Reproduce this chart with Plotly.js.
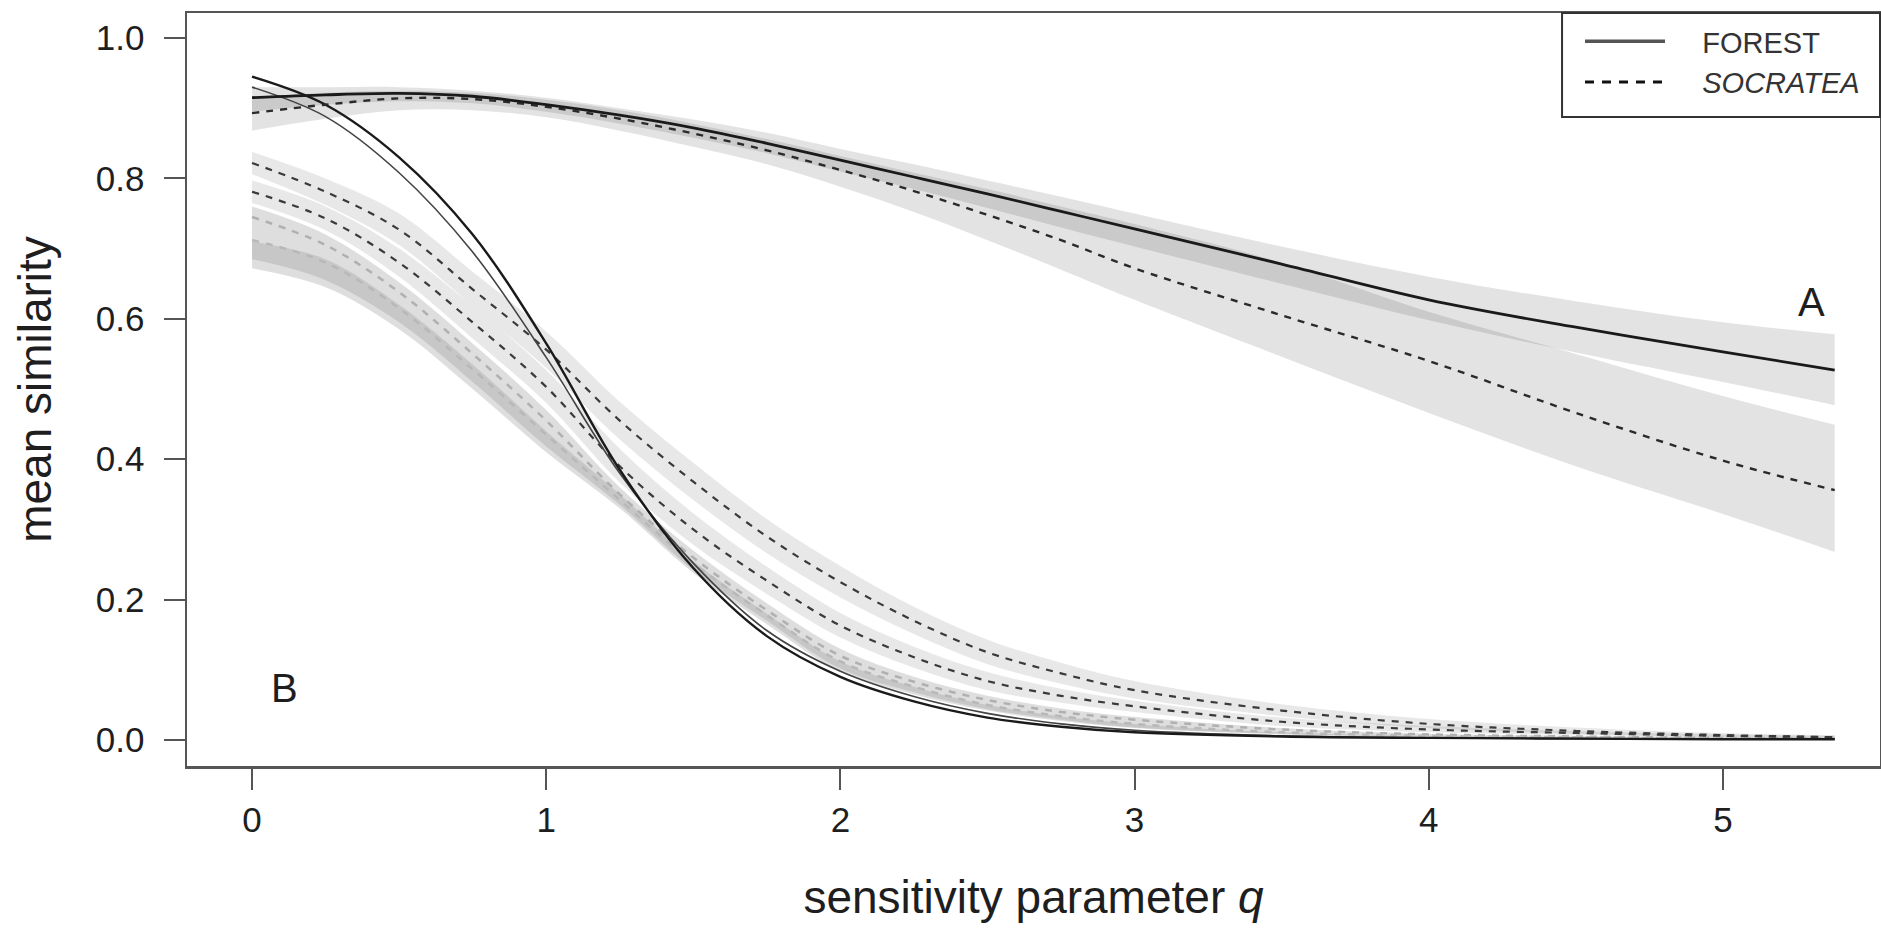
<!DOCTYPE html>
<html>
<head>
<meta charset="utf-8">
<script src="https://cdn.plot.ly/plotly-3.0.1.min.js"></script>
<style>html,body{margin:0;padding:0;background:#fff;}#chart{width:1881px;height:931px;}</style>
</head>
<body>
<div id="chart"></div>
<script>
// ---- data ----
const q = [0, 0.25, 0.5, 0.75, 1.0, 1.25, 1.5, 1.75, 2.0, 2.25, 2.5, 2.75, 3.0, 3.5, 4.0, 4.5, 5.0, 5.38];

// Curve set A
const aForest    = [0.915, 0.919, 0.921, 0.917, 0.905, 0.890, 0.872, 0.850, 0.826, 0.802, 0.778, 0.753, 0.728, 0.678, 0.627, 0.588, 0.553, 0.527];
const aForestHi  = [0.930, 0.930, 0.930, 0.925, 0.915, 0.900, 0.884, 0.865, 0.842, 0.820, 0.797, 0.774, 0.750, 0.703, 0.660, 0.625, 0.595, 0.578];
const aForestLo  = [0.895, 0.905, 0.910, 0.907, 0.895, 0.878, 0.858, 0.836, 0.810, 0.785, 0.758, 0.730, 0.703, 0.650, 0.598, 0.552, 0.510, 0.477];
const aSocratea  = [0.893, 0.905, 0.914, 0.913, 0.902, 0.885, 0.864, 0.840, 0.812, 0.782, 0.748, 0.712, 0.672, 0.605, 0.540, 0.466, 0.398, 0.356];
const aSocHi     = [0.915, 0.922, 0.925, 0.922, 0.912, 0.897, 0.878, 0.856, 0.832, 0.808, 0.785, 0.760, 0.735, 0.680, 0.610, 0.550, 0.490, 0.449];
const aSocLo     = [0.868, 0.885, 0.897, 0.897, 0.887, 0.868, 0.845, 0.820, 0.788, 0.752, 0.712, 0.670, 0.627, 0.546, 0.466, 0.390, 0.322, 0.268];

// Curve set B
const bForest1   = [0.945, 0.905, 0.830, 0.720, 0.565, 0.385, 0.245, 0.148, 0.090, 0.055, 0.032, 0.019, 0.011, 0.005, 0.003, 0.002, 0.001, 0.001];
const bForest2   = [0.930, 0.888, 0.808, 0.695, 0.545, 0.380, 0.252, 0.156, 0.098, 0.062, 0.038, 0.023, 0.014, 0.006, 0.003, 0.002, 0.001, 0.001];
const bSoc1      = [0.822, 0.781, 0.727, 0.642, 0.556, 0.455, 0.368, 0.290, 0.225, 0.170, 0.125, 0.095, 0.071, 0.042, 0.023, 0.013, 0.007, 0.004];
const bSoc1Hi    = [0.838, 0.800, 0.750, 0.667, 0.582, 0.482, 0.395, 0.315, 0.248, 0.190, 0.143, 0.110, 0.084, 0.051, 0.030, 0.018, 0.010, 0.007];
const bSoc1Lo    = [0.806, 0.762, 0.705, 0.618, 0.530, 0.428, 0.342, 0.266, 0.203, 0.151, 0.108, 0.080, 0.059, 0.034, 0.017, 0.009, 0.004, 0.002];
const bSoc2      = [0.781, 0.743, 0.680, 0.595, 0.503, 0.390, 0.300, 0.227, 0.163, 0.118, 0.084, 0.063, 0.048, 0.026, 0.015, 0.010, 0.006, 0.004];
const bSoc2Hi    = [0.797, 0.760, 0.700, 0.618, 0.527, 0.415, 0.323, 0.247, 0.181, 0.133, 0.097, 0.073, 0.056, 0.032, 0.020, 0.013, 0.008, 0.006];
const bSoc2Lo    = [0.765, 0.726, 0.660, 0.572, 0.480, 0.367, 0.278, 0.208, 0.146, 0.103, 0.071, 0.053, 0.040, 0.020, 0.011, 0.007, 0.004, 0.002];
const bLowHi     = [0.760, 0.720, 0.652, 0.565, 0.470, 0.360, 0.270, 0.195, 0.130, 0.090, 0.063, 0.045, 0.033, 0.017, 0.009, 0.006, 0.004, 0.003];
const bLowLo     = [0.672, 0.645, 0.585, 0.500, 0.410, 0.330, 0.238, 0.165, 0.098, 0.065, 0.042, 0.027, 0.017, 0.008, 0.004, 0.002, 0.001, 0.001];
const bInnerHi   = [0.710, 0.685, 0.620, 0.535, 0.440, 0.350, 0.255, 0.180, 0.112, 0.076, 0.050, 0.034, 0.023, 0.011, 0.006, 0.004, 0.002, 0.002];
const bInnerLo   = [0.685, 0.655, 0.595, 0.510, 0.418, 0.335, 0.242, 0.170, 0.102, 0.068, 0.044, 0.029, 0.018, 0.009, 0.005, 0.003, 0.001, 0.001];
const bLight1    = [0.745, 0.705, 0.638, 0.550, 0.455, 0.350, 0.260, 0.185, 0.120, 0.083, 0.057, 0.040, 0.029, 0.015, 0.008, 0.005, 0.003, 0.002];
const bLight2    = [0.712, 0.680, 0.615, 0.528, 0.435, 0.342, 0.252, 0.178, 0.112, 0.076, 0.050, 0.034, 0.023, 0.011, 0.006, 0.004, 0.002, 0.002];

const xTicks = [0, 1, 2, 3, 4, 5];
const xTickText = ['0', '1', '2', '3', '4', '5'];
const yTicks = [0, 0.2, 0.4, 0.6, 0.8, 1.0];
const yTickText = ['0.0', '0.2', '0.4', '0.6', '0.8', '1.0'];
const legendNames = ['FOREST', '<i>SOCRATEA</i>'];

// ---- traces ----
const FONT = 'Liberation Sans, Arial, Helvetica, sans-serif';
const PAD = '&nbsp;&nbsp;&nbsp;&nbsp;';
const traces = [];
function band(lo, hi, fillcolor) {
  traces.push({x: q, y: lo, type: 'scatter', mode: 'lines', line: {width: 0, shape: 'spline'}, showlegend: false, hoverinfo: 'skip'});
  traces.push({x: q, y: hi, type: 'scatter', mode: 'lines', line: {width: 0, shape: 'spline'}, fill: 'tonexty', fillcolor: fillcolor, showlegend: false, hoverinfo: 'skip'});
}
function line(y, color, width, dash, name) {
  traces.push({x: q, y: y, type: 'scatter', mode: 'lines', name: name || '',
    line: {color: color, width: width, dash: dash || 'solid', shape: 'spline', smoothing: 1},
    showlegend: false});
}

band(aSocLo, aSocHi, 'rgba(0,0,0,0.11)');
band(aForestLo, aForestHi, 'rgba(0,0,0,0.11)');
band(bLowLo, bLowHi, 'rgba(0,0,0,0.13)');
band(bInnerLo, bInnerHi, 'rgba(0,0,0,0.10)');
band(bSoc2Lo, bSoc2Hi, 'rgba(0,0,0,0.09)');
band(bSoc1Lo, bSoc1Hi, 'rgba(0,0,0,0.09)');

line(bLight1, '#b0b0b0', 2.5, '7px,7px');
line(bLight2, '#b8b8b8', 2.5, '7px,7px');
line(bSoc2, '#3a3a3a', 2.2, '7px,7px');
line(bSoc1, '#3a3a3a', 2.2, '7px,7px');
line(bForest2, '#444444', 1.6);
line(bForest1, '#1a1a1a', 2.4);
line(aSocratea, '#2a2a2a', 2.4, '7px,7px', 'SOCRATEA');
line(aForest, '#1a1a1a', 2.8, 'solid', 'FOREST');

// legend entries (styled like the legend box of the reference)
traces.push({x: [null], y: [null], type: 'scatter', mode: 'lines', name: PAD + legendNames[0], legendgroup: 'f', line: {color: '#555', width: 3.5}, showlegend: true, hoverinfo: 'skip'});
traces.push({x: [null], y: [null], type: 'scatter', mode: 'lines', name: PAD + legendNames[1], legendgroup: 's', line: {color: '#111', width: 3, dash: '9px,8px'}, showlegend: true, hoverinfo: 'skip'});

const layout = {
  width: 1881, height: 931,
  margin: {l: 187, r: 1, t: 13, b: 165, pad: 0},
  paper_bgcolor: '#ffffff', plot_bgcolor: '#ffffff',
  font: {family: FONT, color: '#1e1e1e'},
  showlegend: true,
  legend: {
    x: 0.8228, y: 0.996, xanchor: 'left', yanchor: 'top',
    bgcolor: 'rgba(0,0,0,0)', borderwidth: 0,
    font: {family: FONT, size: 29, color: '#333'},
    itemwidth: 80, tracegroupgap: 5, traceorder: 'normal'
  },
  shapes: [
    {type: 'rect', xref: 'paper', yref: 'paper', x0: 0.8122, x1: 1, y0: 0.8619, y1: 1,
     line: {color: '#333', width: 2}, fillcolor: '#ffffff', layer: 'above'}
  ],
  xaxis: {
    range: [-0.221, 5.534], showgrid: false, zeroline: false,
    showline: true, linecolor: '#555', linewidth: 2.5, mirror: true,
    ticks: 'outside', ticklen: 21, tickwidth: 2, tickcolor: '#555',
    tickvals: xTicks, ticktext: xTickText,
    tickfont: {family: FONT, size: 35, color: '#1e1e1e'},
    ticklabelstandoff: 0,
    title: {text: 'sensitivity parameter <i>q</i>', font: {family: FONT, size: 46, color: '#1e1e1e'}, standoff: 44}
  },
  yaxis: {
    range: [-0.037, 1.0356], showgrid: false, zeroline: false,
    showline: true, linecolor: '#555', linewidth: 2.5, mirror: true,
    ticks: 'outside', ticklen: 21, tickwidth: 2, tickcolor: '#555',
    tickvals: yTicks, ticktext: yTickText,
    tickfont: {family: FONT, size: 35, color: '#1e1e1e'},
    ticklabelstandoff: 12,
    title: {text: 'mean similarity', font: {family: FONT, size: 46, color: '#1e1e1e'}, standoff: 30}
  },
  annotations: [
    {x: 5.30, y: 0.624, xref: 'x', yref: 'y', text: 'A', showarrow: false, font: {family: FONT, size: 40, color: '#1e1e1e'}},
    {x: 0.112, y: 0.074, xref: 'x', yref: 'y', text: 'B', showarrow: false, font: {family: FONT, size: 40, color: '#1e1e1e'}}
  ]
};

Plotly.newPlot('chart', traces, layout, {displayModeBar: false, staticPlot: true});
</script>
</body>
</html>
